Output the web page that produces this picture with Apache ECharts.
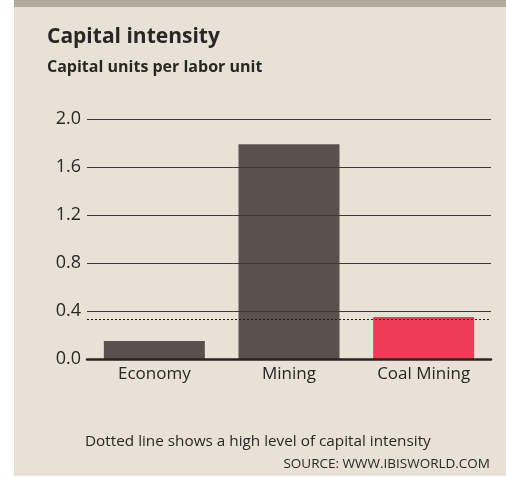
<!DOCTYPE html>
<html>
<head>
<meta charset="utf-8">
<script src="https://cdn.jsdelivr.net/npm/echarts@6/dist/echarts.min.js"></script>
<style>
  body { margin: 0; background: #fff; }
  #chart { width: 506px; height: 477px; }
</style>
</head>
<body>
<div id="chart"></div>
<script>
const categories = ['Economy', 'Mining', 'Coal Mining']
const values = [0.15, 1.79, 0.35]
const barColors = ['#5a504d', '#5a504d', '#ee3b56']
const threshold = 0.33
const yTicks = [0, 0.4, 0.8, 1.2, 1.6, 2.0]

const font = '"Open Sans", Lato, sans-serif'
const textColor = '#2a2624'

const chart = echarts.init(document.getElementById('chart'))

chart.setOption({
  backgroundColor: '#ffffff',
  animation: false,
  graphic: [
    { type: 'rect', z: -10, shape: { x: 14, y: 0, width: 492, height: 476 }, style: { fill: '#e8e2d6' } },
    { type: 'rect', z: -9, shape: { x: 14, y: 0, width: 492, height: 7 }, style: { fill: '#b2aa98' } },
    {
      type: 'text', left: 47, top: 27,
      style: { text: 'Capital intensity', font: 'bold 21px ' + font, fill: textColor },
    },
    {
      type: 'text', left: 47, top: 59,
      style: { text: 'Capital units per labor unit', font: 'bold 16px ' + font, fill: textColor },
    },
    {
      type: 'text', left: 85, top: 434,
      style: { text: 'Dotted line shows a high level of capital intensity', font: '15.3px ' + font, fill: textColor },
    },
    {
      type: 'text', right: 16, top: 457,
      style: { text: 'SOURCE: WWW.IBISWORLD.COM', font: '13.5px ' + font, fill: textColor },
    },
  ],
  grid: { left: 87, right: 15, top: 119, bottom: 118 },
  xAxis: {
    type: 'category',
    data: categories,
    z: 5,
    axisLine: { lineStyle: { color: '#2a2422', width: 2.5 } },
    axisTick: { show: false },
    axisLabel: { fontFamily: font, fontSize: 17, color: textColor, margin: 7 },
  },
  yAxis: {
    type: 'value',
    min: yTicks[0],
    max: yTicks[yTicks.length - 1],
    interval: 0.4,
    z: 5,
    axisLine: { show: false },
    axisTick: { show: false },
    axisLabel: {
      fontFamily: font, fontSize: 18, color: textColor, margin: 6,
      formatter: (v) => v.toFixed(1),
    },
    splitLine: { lineStyle: { color: '#3f3937', width: 1.2 } },
  },
  series: [
    {
      type: 'bar',
      barWidth: '75%',
      data: values.map((v, i) => ({ value: v, itemStyle: { color: barColors[i] } })),
      markLine: {
        silent: true,
        symbol: 'none',
        label: { show: false },
        lineStyle: { color: '#1f1b1a', width: 1, type: [2, 2] },
        data: [{ yAxis: threshold }],
      },
    },
  ],
})
</script>
</body>
</html>
